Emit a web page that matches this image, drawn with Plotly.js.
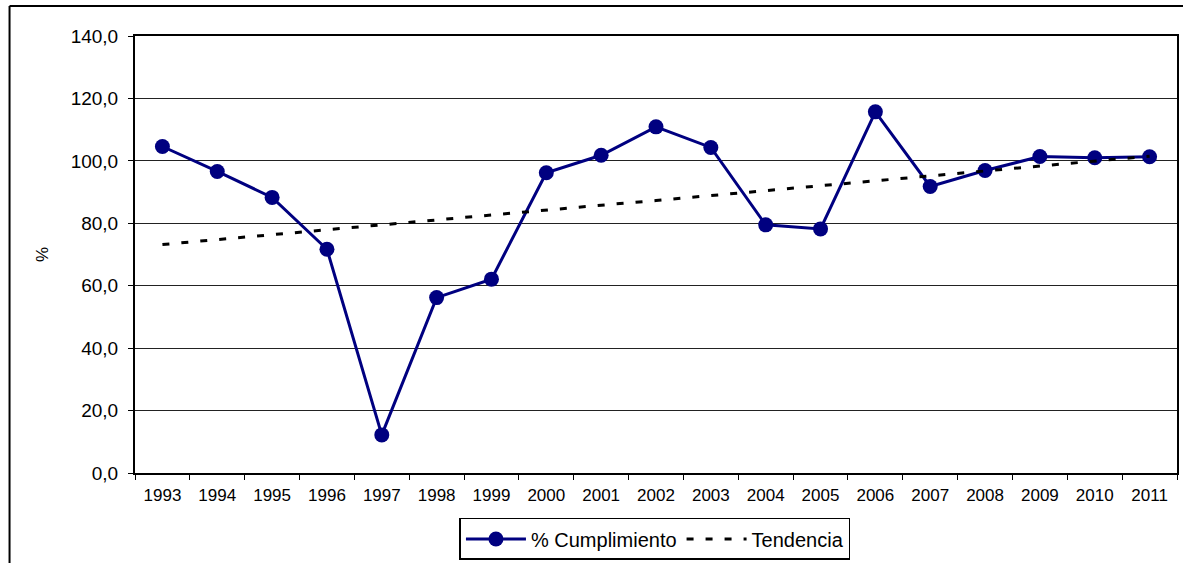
<!DOCTYPE html>
<html>
<head>
<meta charset="utf-8">
<script src="https://cdn.plot.ly/plotly-3.0.1.min.js"></script>
<style>
  html, body { margin: 0; padding: 0; background: #fff; }
  #chart { width: 1183px; height: 563px; }
</style>
</head>
<body>
<div id="chart"></div>
<script>
const years = ["1993","1994","1995","1996","1997","1998","1999","2000","2001","2002","2003","2004","2005","2006","2007","2008","2009","2010","2011"];
const cumplimiento = [104.6, 96.6, 88.3, 71.7, 12.2, 56.2, 62.1, 96.2, 101.8, 110.9, 104.3, 79.5, 78.2, 115.7, 91.8, 96.9, 101.4, 101.0, 101.3];
const tendencia = [73.2, 74.8, 76.3, 77.9, 79.5, 81.0, 82.6, 84.2, 85.8, 87.3, 88.9, 90.5, 92.0, 93.6, 95.2, 96.7, 98.3, 99.9, 101.5];
const yTicks = [0, 20, 40, 60, 80, 100, 120, 140];
const yTickText = yTicks.map(v => v.toFixed(1).replace('.', ','));

const font = "Liberation Sans, Arial, sans-serif";

const traces = [
  {
    x: years, y: cumplimiento, type: "scatter", mode: "lines+markers",
    name: "% Cumplimiento",
    line: { color: "#000080", width: 3 },
    marker: { color: "#000080", size: 15, symbol: "circle" }
  },
  {
    x: years, y: tendencia, type: "scatter", mode: "lines",
    name: "Tendencia",
    line: { color: "#000000", width: 3, dash: "7px,12px" }
  }
];

const layout = {
  width: 1183, height: 563,
  margin: { l: 135, r: 6, t: 36, b: 90, autoexpand: false },
  paper_bgcolor: "#ffffff", plot_bgcolor: "#ffffff",
  font: { family: font, color: "#000" },
  showlegend: true,
  legend: {
    orientation: "h", x: 0.499, xanchor: "center", y: -0.199, yanchor: "bottom",
    bordercolor: "#000", borderwidth: 1.5, font: { size: 20, family: font },
    itemwidth: 60, tracegroupgap: 0
  },
  xaxis: {
    type: "category", showgrid: false, showline: true, linecolor: "#000", linewidth: 2,
    mirror: true, ticks: "outside", tickson: "boundaries", ticklen: 5, tickcolor: "#000",
    tickfont: { size: 17, family: font }, ticklabelstandoff: 6,
    range: [-0.5, 18.5], zeroline: false
  },
  yaxis: {
    range: [0, 140], tickvals: yTicks, ticktext: yTickText,
    showgrid: true, gridcolor: "#222", gridwidth: 1,
    showline: true, linecolor: "#000", linewidth: 2, mirror: true,
    ticks: "outside", ticklen: 5, tickcolor: "#000",
    tickfont: { size: 19, family: font }, ticklabelstandoff: 6,
    zeroline: false,
    title: { text: "%", font: { size: 17, family: font }, standoff: 18 }
  },
  shapes: [
    { type: "line", xref: "paper", yref: "paper", x0: -0.1204, x1: -0.1204, y0: 1.0686, y1: -0.25,
      line: { color: "#000", width: 2 } },
    { type: "line", xref: "paper", yref: "paper", x0: -0.1204, x1: 1.01, y0: 1.0686, y1: 1.0686,
      line: { color: "#000", width: 2 } }
  ]
};

Plotly.newPlot("chart", traces, layout, { displayModeBar: false, staticPlot: true });
</script>
</body>
</html>
